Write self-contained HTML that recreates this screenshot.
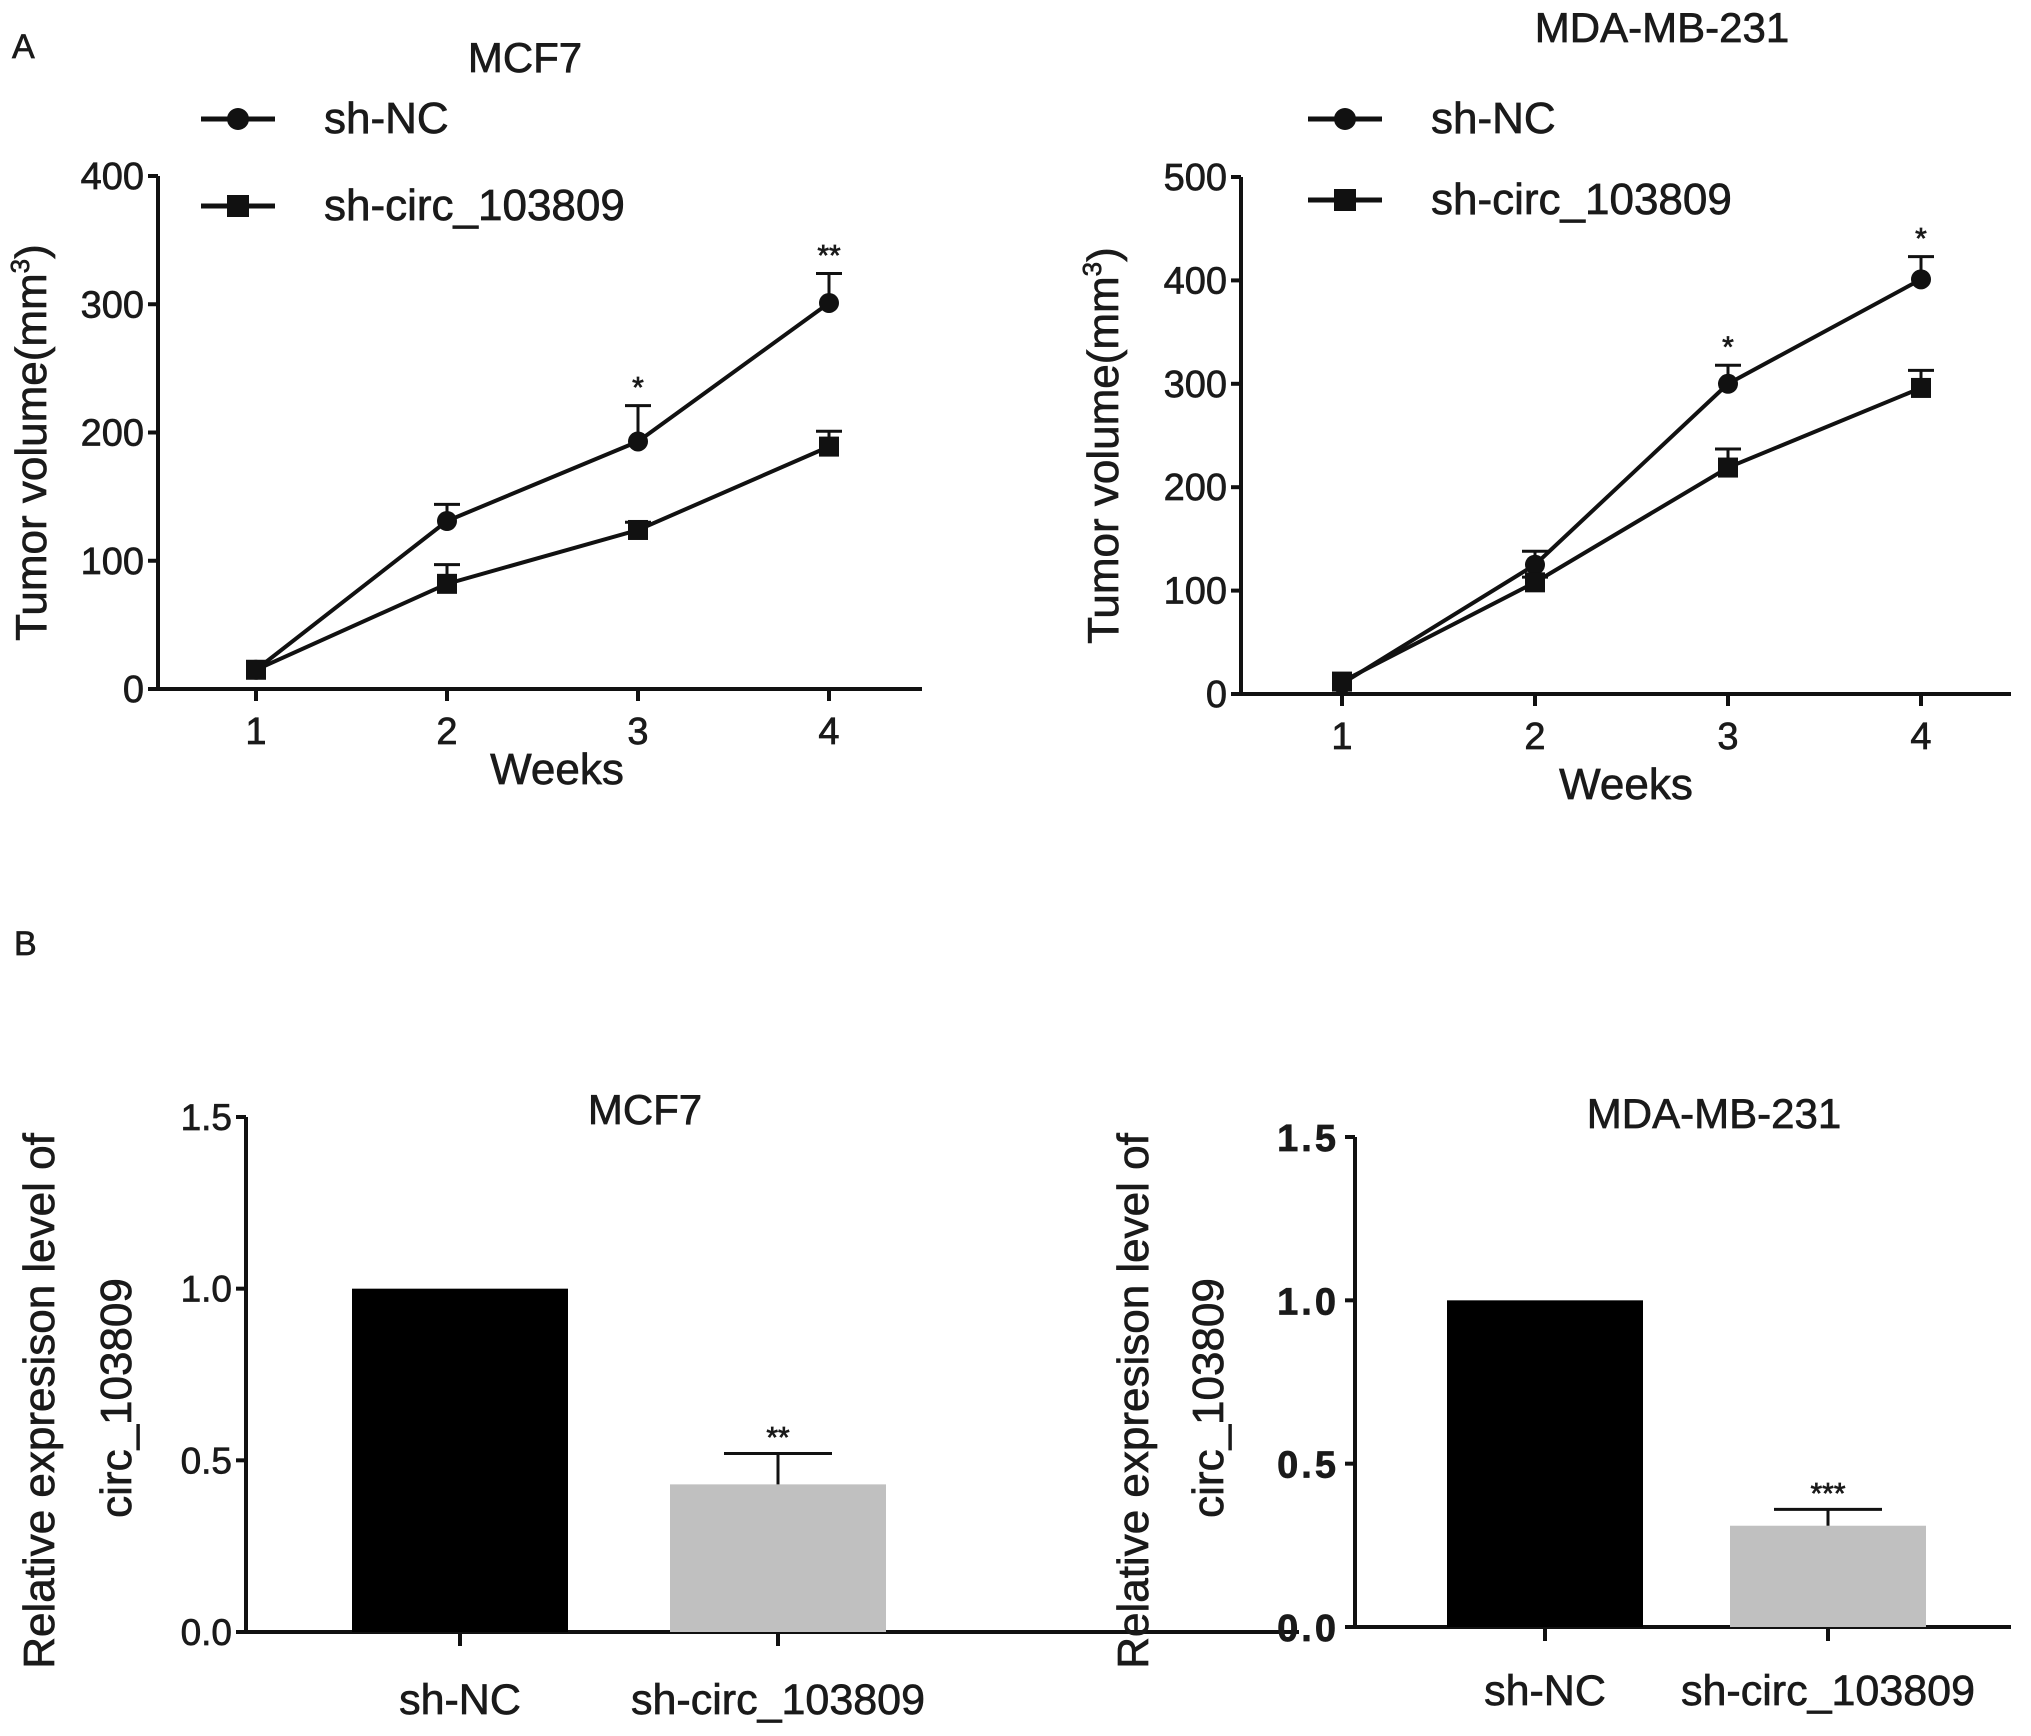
<!DOCTYPE html>
<html><head><meta charset="utf-8"><style>
html,body{margin:0;padding:0;background:#fff;}
svg{display:block;font-family:"Liberation Sans",Arial,sans-serif;}
svg text{fill:#1a1a1a;stroke:#1a1a1a;stroke-width:0.7px;}
</style></head><body>
<svg id="fig" width="2031" height="1736" viewBox="0 0 2031 1736" xmlns="http://www.w3.org/2000/svg">
<text x="12" y="58" font-size="34">A</text>
<text x="14" y="955" font-size="34">B</text>
</svg>
<script>
const weeks = [1, 2, 3, 4];
const mcf7NC = [15, 131, 193, 301];
const mcf7NCErr = [0, 13, 28, 23];
const mcf7Sh = [15, 82, 124, 189];
const mcf7ShErr = [0, 15, 6, 12];
const mcf7Stars = ["", "", "*", "**"];
const mdaNC = [10, 125, 300, 401];
const mdaNCErr = [0, 13, 18, 22];
const mdaSh = [12, 108, 219, 296];
const mdaShErr = [0, 5, 18, 17];
const mdaStars = ["", "", "*", "*"];
const mcf7Ticks = [0, 100, 200, 300, 400];
const mdaTicks = [0, 100, 200, 300, 400, 500];
const barCats = ["sh-NC", "sh-circ_103809"];
const mcf7Bars = [1.0, 0.43];
const mcf7BarErr = [0, 0.09];
const mcf7BarStars = ["", "**"];
const mdaBars = [1.0, 0.31];
const mdaBarErr = [0, 0.05];
const mdaBarStars = ["", "***"];
const barTicks = ["0.0", "0.5", "1.0", "1.5"];

const svg = document.getElementById('fig');
const NS = 'http://www.w3.org/2000/svg';
function mk(tag, attrs, text) {
  const e = document.createElementNS(NS, tag);
  for (const k in attrs) e.setAttribute(k, attrs[k]);
  if (text !== undefined) e.textContent = text;
  svg.appendChild(e);
  return e;
}

function lineChart(o) {
  const yS = v => o.y0 - (v / o.ymax) * (o.y0 - o.y1);
  const xS = w => o.xt[0] + (w - 1) * (o.xt[1] - o.xt[0]);
  let e;
  e = mk('line', {x1: o.ax, y1: o.y1, x2: o.ax, y2: o.y0 + 2, stroke: '#111', 'stroke-width': 4});
   
  e = mk('line', {x1: o.ax - 8, y1: o.y0, x2: o.xend, y2: o.y0, stroke: '#111', 'stroke-width': 4});
   
  o.yt.forEach(v => {
    mk('line', {x1: o.ax - 10, y1: yS(v), x2: o.ax, y2: yS(v), stroke: '#111', 'stroke-width': 4});
    e = mk('text', {x: o.ax - 14, y: yS(v) + 13, 'font-size': 38, 'text-anchor': 'end'}, v);
     
  });
  weeks.forEach(w => {
    mk('line', {x1: xS(w), y1: o.y0, x2: xS(w), y2: o.y0 + 12, stroke: '#111', 'stroke-width': 4});
    e = mk('text', {x: xS(w), y: o.y0 + 55, 'font-size': 38, 'text-anchor': 'middle'}, w);
     
  });
  e = mk('text', {x: o.wx, y: o.wy, 'font-size': 44, 'text-anchor': 'middle'}, 'Weeks');
   
  e = mk('text', {transform: `translate(${o.ylx},${(o.y0 + o.y1) / 2 + 10}) rotate(-90)`, 'font-size': 44, 'text-anchor': 'middle'});
  e.innerHTML = 'Tumor volume(mm<tspan font-size="26" dy="-17">3</tspan><tspan dy="17">)</tspan>';
   
  e = mk('text', {x: o.tx, y: o.ty, 'font-size': 42, 'text-anchor': 'middle'}, o.title);
   
  [[o.nc, o.ncE, 'circle', 'sh-nc'], [o.sh, o.shE, 'square', 'sh-circ']].forEach(([vals, errs, mark, nm]) => {
    const pts = vals.map((v, i) => xS(weeks[i]) + ',' + yS(v)).join(' ');
    e = mk('polyline', {points: pts, fill: 'none', stroke: '#111', 'stroke-width': 4});
     
    vals.forEach((v, i) => {
      const x = xS(weeks[i]);
      if (errs[i] > 0) {
        mk('line', {x1: x, y1: yS(v), x2: x, y2: yS(v + errs[i]), stroke: '#111', 'stroke-width': 3});
        e = mk('line', {x1: x - 13, y1: yS(v + errs[i]), x2: x + 13, y2: yS(v + errs[i]), stroke: '#111', 'stroke-width': 3});
         
      }
      if (mark === 'circle') e = mk('circle', {cx: x, cy: yS(v), r: 10, fill: '#111'});
      else e = mk('rect', {x: x - 10, y: yS(v) - 10, width: 20, height: 20, fill: '#111'});
       
    });
  });
  o.stars.forEach((s, i) => {
    if (!s) return;
    e = mk('text', {x: xS(weeks[i]), y: yS(o.nc[i] + o.ncE[i]) - 8, 'font-size': 30, 'text-anchor': 'middle'}, s);
     
  });
  [[o.ly1, 'circle', 'sh-NC'], [o.ly2, 'square', 'sh-circ_103809']].forEach(([ly, m, lab]) => {
    mk('line', {x1: o.lx, y1: ly, x2: o.lx + 74, y2: ly, stroke: '#111', 'stroke-width': 5});
    if (m === 'circle') e = mk('circle', {cx: o.lx + 37, cy: ly, r: 11, fill: '#111'});
    else e = mk('rect', {x: o.lx + 26, y: ly - 11, width: 22, height: 22, fill: '#111'});
    e = mk('text', {x: o.lx + 123, y: ly + 14, 'font-size': 44}, lab);
     
  });
}

lineChart({p: 'mcf7-growth', ax: 158, y0: 689, y1: 176, ymax: 400, xt: [256, 447], xend: 922, yt: mcf7Ticks,
  nc: mcf7NC, ncE: mcf7NCErr, sh: mcf7Sh, shE: mcf7ShErr, stars: mcf7Stars, title: 'MCF7', tx: 525, ty: 72,
  wx: 557, wy: 784, ylx: 46, lx: 201, ly1: 119, ly2: 206});
lineChart({p: 'mda-growth', ax: 1241, y0: 694, y1: 177, ymax: 500, xt: [1342, 1535], xend: 2011, yt: mdaTicks,
  nc: mdaNC, ncE: mdaNCErr, sh: mdaSh, shE: mdaShErr, stars: mdaStars, title: 'MDA-MB-231', tx: 1662, ty: 42,
  wx: 1626, wy: 799, ylx: 1118, lx: 1308, ly1: 119, ly2: 200});

function barChart(o) {
  const yS = v => o.y0 - (v / 1.5) * (o.y0 - o.y1);
  let e;
  e = mk('line', {x1: o.ax, y1: o.y1, x2: o.ax, y2: o.y0 + 2, stroke: '#111', 'stroke-width': 4});
   
  e = mk('line', {x1: o.ax - 8, y1: o.y0, x2: o.xend, y2: o.y0, stroke: '#111', 'stroke-width': 4});
   
  barTicks.forEach(t => {
    const v = parseFloat(t);
    mk('line', {x1: o.ax - 10, y1: yS(v), x2: o.ax, y2: yS(v), stroke: '#111', 'stroke-width': 4});
    e = mk('text', o.bold
      ? {x: o.ax - 16, y: yS(v) + 14, 'font-size': 38, 'font-weight': 'bold', 'letter-spacing': 3, 'text-anchor': 'end'}
      : {x: o.ax - 14, y: yS(v) + 13, 'font-size': 37, 'text-anchor': 'end'}, t);
     
  });
  o.vals.forEach((v, i) => {
    const cx = o.cx[i];
    e = mk('rect', {x: cx - o.bw / 2, y: yS(v), width: o.bw, height: o.y0 - yS(v), fill: i === 0 ? '#000' : '#c0c0c0'});
     
    if (o.err[i] > 0) {
      mk('line', {x1: cx, y1: yS(v), x2: cx, y2: yS(v + o.err[i]), stroke: '#111', 'stroke-width': 3});
      e = mk('line', {x1: cx - 54, y1: yS(v + o.err[i]), x2: cx + 54, y2: yS(v + o.err[i]), stroke: '#111', 'stroke-width': 3});
       
    }
    if (o.stars[i]) {
      e = mk('text', {x: cx, y: yS(v + o.err[i]) - 6, 'font-size': 30, 'text-anchor': 'middle'}, o.stars[i]);
       
    }
    mk('line', {x1: cx, y1: o.y0, x2: cx, y2: o.y0 + 14, stroke: '#111', 'stroke-width': 4});
    e = mk('text', {x: cx, y: o.ly, 'font-size': 43, 'text-anchor': 'middle'}, barCats[i]);
     
  });
  e = mk('text', {x: o.tx, y: o.ty, 'font-size': 42, 'text-anchor': 'middle'}, o.title);
   
  const cy = 1401;
  e = mk('text', {transform: `translate(${o.yl1},${cy}) rotate(-90)`, 'font-size': 44, 'text-anchor': 'middle'}, 'Relative expresison level of');
   
  e = mk('text', {transform: `translate(${o.yl2},${cy - 3}) rotate(-90)`, 'font-size': 44, 'text-anchor': 'middle'}, 'circ_103809');
   
}

barChart({p: 'mcf7-expr', ax: 246, y0: 1632, y1: 1117, xend: 1299, cx: [460, 778], bw: 216,
  vals: mcf7Bars, err: mcf7BarErr, stars: mcf7BarStars, title: 'MCF7', tx: 645, ty: 1124, ly: 1714,
  yl1: 54, yl2: 131, bold: false});
barChart({p: 'mda-expr', ax: 1355, y0: 1627, y1: 1137, xend: 2011, cx: [1545, 1828], bw: 196,
  vals: mdaBars, err: mdaBarErr, stars: mdaBarStars, title: 'MDA-MB-231', tx: 1714, ty: 1128, ly: 1705,
  yl1: 1148, yl2: 1223, bold: true});
</script>
</body></html>
